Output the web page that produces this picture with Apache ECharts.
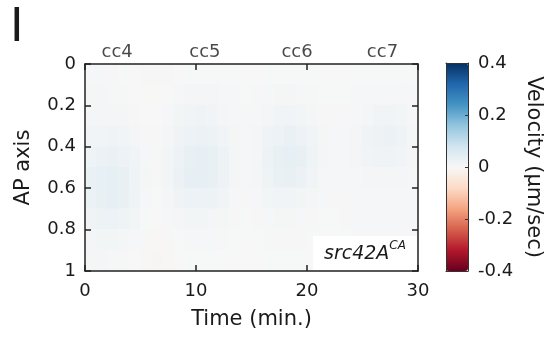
<!DOCTYPE html>
<html>
<head>
<meta charset="utf-8">
<script src="https://cdn.jsdelivr.net/npm/echarts@6/dist/echarts.min.js"></script>
<style>
  html, body { margin: 0; padding: 0; background: #fff; }
  #main { width: 554px; height: 337px; }
</style>
</head>
<body>
<div id="main"></div>
<script>
// cell centres: time (min, 1 min wide) and AP position (0.1 wide)
const timeBins = [0.5, 1.5, 2.5, 3.5, 4.5, 5.5, 6.5, 7.5, 8.5, 9.5,
  10.5, 11.5, 12.5, 13.5, 14.5, 15.5, 16.5, 17.5, 18.5, 19.5,
  20.5, 21.5, 22.5, 23.5, 24.5, 25.5, 26.5, 27.5, 28.5, 29.5];
const apBins = [0.05, 0.15, 0.25, 0.35, 0.45, 0.55, 0.65, 0.75, 0.85, 0.95];
const timeStep = 1;
const apStep = 0.1;

// velocity (um/sec), one row per AP bin, one value per time bin
const velocity = [
  [0.004, 0.004, 0.003, 0.002, 0.000, -0.002, -0.002, -0.002, 0.000, 0.002, 0.002, 0.002, 0.002, 0.002, 0.001, 0.001, 0.002, 0.002, 0.002, 0.002, 0.002, 0.001, 0.001, 0.001, 0.002, 0.002, 0.002, 0.002, 0.002, 0.002],
  [0.006, 0.006, 0.005, 0.003, 0.001, -0.001, -0.001, 0.001, 0.004, 0.008, 0.009, 0.008, 0.005, 0.003, 0.002, 0.003, 0.005, 0.006, 0.006, 0.005, 0.003, 0.002, 0.002, 0.002, 0.003, 0.004, 0.005, 0.005, 0.004, 0.003],
  [0.008, 0.009, 0.008, 0.006, 0.003, 0.001, 0.001, 0.004, 0.010, 0.015, 0.016, 0.013, 0.008, 0.004, 0.003, 0.005, 0.009, 0.012, 0.013, 0.010, 0.006, 0.003, 0.003, 0.003, 0.005, 0.009, 0.012, 0.013, 0.010, 0.005],
  [0.012, 0.015, 0.016, 0.013, 0.007, 0.003, 0.003, 0.008, 0.017, 0.023, 0.025, 0.021, 0.014, 0.006, 0.004, 0.008, 0.017, 0.024, 0.027, 0.023, 0.014, 0.006, 0.004, 0.004, 0.008, 0.016, 0.022, 0.025, 0.018, 0.008],
  [0.020, 0.025, 0.027, 0.023, 0.014, 0.005, 0.003, 0.010, 0.024, 0.032, 0.034, 0.030, 0.021, 0.008, 0.004, 0.009, 0.022, 0.032, 0.036, 0.032, 0.020, 0.007, 0.004, 0.004, 0.007, 0.013, 0.017, 0.018, 0.013, 0.006],
  [0.027, 0.033, 0.036, 0.031, 0.019, 0.006, 0.003, 0.010, 0.025, 0.034, 0.036, 0.032, 0.021, 0.008, 0.004, 0.008, 0.019, 0.028, 0.030, 0.025, 0.014, 0.005, 0.004, 0.004, 0.005, 0.007, 0.008, 0.008, 0.007, 0.005],
  [0.025, 0.032, 0.035, 0.030, 0.018, 0.005, 0.002, 0.007, 0.017, 0.023, 0.024, 0.021, 0.013, 0.005, 0.003, 0.005, 0.010, 0.014, 0.014, 0.011, 0.006, 0.004, 0.003, 0.003, 0.004, 0.005, 0.005, 0.005, 0.005, 0.005],
  [0.016, 0.021, 0.023, 0.018, 0.010, 0.002, 0.000, 0.004, 0.008, 0.011, 0.011, 0.009, 0.006, 0.003, 0.002, 0.003, 0.005, 0.006, 0.006, 0.005, 0.003, 0.002, 0.002, 0.003, 0.004, 0.004, 0.004, 0.004, 0.004, 0.004],
  [0.009, 0.011, 0.011, 0.008, 0.004, -0.002, -0.004, -0.002, 0.002, 0.004, 0.004, 0.004, 0.003, 0.002, 0.001, 0.002, 0.003, 0.003, 0.003, 0.003, 0.002, 0.001, 0.001, 0.002, 0.003, 0.003, 0.003, 0.003, 0.003, 0.003],
  [0.006, 0.006, 0.005, 0.003, 0.000, -0.004, -0.005, -0.003, 0.000, 0.002, 0.002, 0.002, 0.001, 0.000, 0.000, 0.001, 0.002, 0.002, 0.002, 0.002, 0.001, 0.000, 0.000, 0.001, 0.002, 0.002, 0.002, 0.002, 0.002, 0.002]
];

// nuclear cycle labels along the top
const cycleLabels = ['cc4', 'cc5', 'cc6', 'cc7'];
const cycleTimes = [2.9, 10.8, 19.1, 26.8];

const colorScale = ['#67001f', '#b2182b', '#d6604d', '#f4a582', '#fddbc7', '#f7f7f7',
  '#d1e5f0', '#92c5de', '#4393c3', '#2166ac', '#053061'];

const font = 'DejaVu Sans, Liberation Sans, sans-serif';
const ink = '#1a1a1a';
const frame = { show: true, onZero: false, lineStyle: { color: '#222', width: 1.5 } };
const thinFrame = { show: true, onZero: false, lineStyle: { color: '#333', width: 1 } };
const innerTick = { show: true, inside: true, length: 6, lineStyle: { color: '#222', width: 1.5 } };

const heatData = [];
velocity.forEach((row, r) => {
  row.forEach((v, c) => {
    heatData.push([timeBins[c], apBins[r], v]);
  });
});

// one rectangle per cell, kept inside the plot so the frame stays visible
function renderCell(params, api) {
  const t = api.value(0);
  const ap = api.value(1);
  const p0 = api.coord([t - timeStep / 2, ap - apStep / 2]);
  const p1 = api.coord([t + timeStep / 2, ap + apStep / 2]);
  const cs = params.coordSys;
  const shape = echarts.graphic.clipRectByRect({
    x: Math.min(p0[0], p1[0]) - 0.5,
    y: Math.min(p0[1], p1[1]) - 0.5,
    width: Math.abs(p1[0] - p0[0]) + 1,
    height: Math.abs(p1[1] - p0[1]) + 1
  }, { x: cs.x, y: cs.y, width: cs.width, height: cs.height });
  return shape && {
    type: 'rect',
    shape: shape,
    style: { fill: api.visual('color') }
  };
}

const myChart = echarts.init(document.querySelector('#main'));

const plotBox = { left: 85, top: 64, width: 333, height: 207 };
const barBox = { left: 446, top: 63, width: 22, height: 208 };

const option = {
  animation: false,
  backgroundColor: '#fff',
  textStyle: { fontFamily: font, color: ink },
  grid: [
    Object.assign({ containLabel: false }, plotBox),
    Object.assign({ containLabel: false }, barBox)
  ],
  xAxis: [
    {
      gridIndex: 0, type: 'value', min: 0, max: 30, interval: 10, position: 'bottom', z: 5,
      axisLine: frame,
      axisTick: innerTick,
      axisLabel: { fontSize: 18, color: ink, margin: 11, fontFamily: font },
      splitLine: { show: false },
      name: 'Time (min.)', nameLocation: 'middle', nameGap: 38,
      nameTextStyle: { fontSize: 21, color: ink, fontFamily: font }
    },
    {
      gridIndex: 0, type: 'value', min: 0, max: 30, interval: 10, position: 'top', z: 5,
      axisLine: frame,
      axisTick: innerTick,
      axisLabel: { show: false },
      splitLine: { show: false }
    },
    // colorbar frame
    {
      gridIndex: 1, type: 'value', min: 0, max: 1, position: 'bottom', z: 5,
      axisLine: thinFrame,
      axisTick: { show: false }, axisLabel: { show: false }, splitLine: { show: false }
    },
    {
      gridIndex: 1, type: 'value', min: 0, max: 1, position: 'top', z: 5,
      axisLine: thinFrame,
      axisTick: { show: false }, axisLabel: { show: false }, splitLine: { show: false }
    }
  ],
  yAxis: [
    {
      gridIndex: 0, type: 'value', min: 0, max: 1, interval: 0.2, inverse: true, position: 'left', z: 5,
      axisLine: frame,
      axisTick: innerTick,
      axisLabel: { fontSize: 18, color: ink, margin: 9, fontFamily: font },
      splitLine: { show: false },
      name: 'AP axis', nameLocation: 'middle', nameGap: 51,
      nameTextStyle: { fontSize: 21, color: ink, fontFamily: font }
    },
    {
      gridIndex: 0, type: 'value', min: 0, max: 1, interval: 0.2, inverse: true, position: 'right', z: 5,
      axisLine: frame,
      axisTick: innerTick,
      axisLabel: { show: false },
      splitLine: { show: false }
    },
    {
      gridIndex: 1, type: 'value', min: -0.4, max: 0.4, interval: 0.2, position: 'left', z: 5,
      axisLine: thinFrame,
      axisTick: { show: false }, axisLabel: { show: false }, splitLine: { show: false }
    },
    {
      gridIndex: 1, type: 'value', min: -0.4, max: 0.4, interval: 0.2, position: 'right', z: 5,
      axisLine: thinFrame,
      axisTick: { show: true, inside: true, length: 3, lineStyle: { color: '#333', width: 1 } },
      axisLabel: { fontSize: 18, color: ink, margin: 10, fontFamily: font },
      splitLine: { show: false },
      name: 'Velocity (μm/sec)', nameLocation: 'middle', nameGap: 55, nameRotate: -90,
      nameTextStyle: { fontSize: 21, color: ink, fontFamily: font }
    }
  ],
  visualMap: {
    type: 'continuous',
    min: -0.4,
    max: 0.4,
    dimension: 2,
    seriesIndex: 0,
    calculable: false,
    show: true,
    text: null,
    showLabel: false,
    left: barBox.left,
    top: barBox.top,
    padding: 0,
    itemWidth: barBox.width,
    itemHeight: barBox.height,
    inRange: { color: colorScale }
  },
  series: [
    {
      type: 'custom',
      xAxisIndex: 0,
      yAxisIndex: 0,
      z: 1,
      silent: true,
      renderItem: renderCell,
      encode: { x: 0, y: 1 },
      data: heatData
    },
    {
      type: 'scatter',
      xAxisIndex: 0,
      yAxisIndex: 0,
      symbolSize: 0,
      silent: true,
      data: cycleLabels.map((name, i) => ({ name: name, value: [cycleTimes[i], 0] })),
      label: {
        show: true, position: 'top', distance: 3,
        formatter: (p) => p.name,
        fontSize: 18, color: ink, fontFamily: font
      }
    }
  ],
  graphic: [
    {
      type: 'text', left: 10, top: 6, z: 10,
      style: { text: 'I', fontSize: 46, fontFamily: font, fill: ink }
    },
    {
      type: 'rect', z: 3,
      shape: { x: 313, y: 236, width: 104, height: 34 },
      style: { fill: '#fff' }
    },
    {
      type: 'text', left: 324, top: 240, z: 4,
      style: {
        text: '{a|src42A}{b|CA}',
        fontFamily: font,
        rich: {
          a: { fontSize: 19, fontStyle: 'italic', fill: ink, lineHeight: 24, verticalAlign: 'bottom', fontFamily: font },
          b: { fontSize: 12, fontStyle: 'italic', fill: ink, lineHeight: 14, verticalAlign: 'top', fontFamily: font }
        }
      }
    }
  ]
};

myChart.setOption(option, true);
</script>
</body>
</html>
